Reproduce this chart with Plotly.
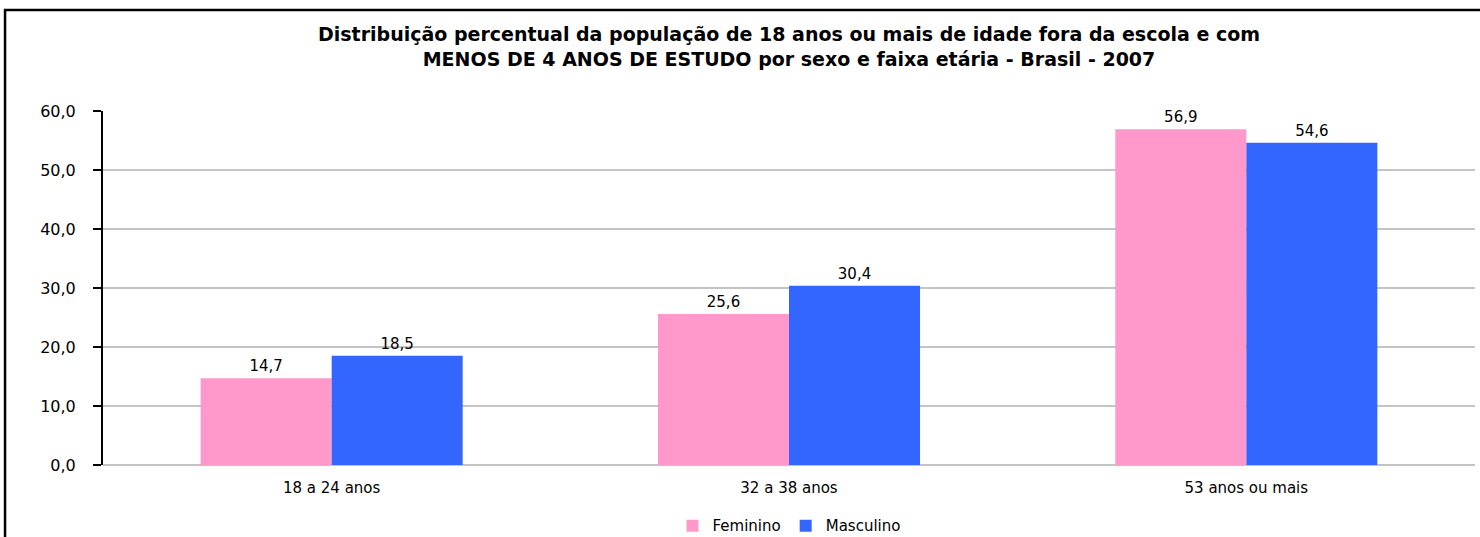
import plotly.graph_objects as go

categories = ["18 a 24 anos", "32 a 38 anos", "53 anos ou mais"]
feminino = [14.7, 25.6, 56.9]
masculino = [18.5, 30.4, 54.6]
y_ticks = [0, 10, 20, 30, 40, 50, 60]
y_tick_labels = ["0,0", "10,0", "20,0", "30,0", "40,0", "50,0", "60,0"]

def fmt(v):
    return f"{v:.1f}".replace(".", ",")

font_family = "DejaVu Sans, Liberation Sans, Arial, sans-serif"

fig = go.Figure()
fig.add_trace(go.Bar(
    name="Feminino", x=categories, y=feminino,
    marker=dict(color="#FF99CC", line=dict(width=0)),
    text=[fmt(v) for v in feminino], textposition="outside",
    textfont=dict(size=15, color="#000000", family=font_family),
    cliponaxis=False,
))
fig.add_trace(go.Bar(
    name="Masculino", x=categories, y=masculino,
    marker=dict(color="#3366FF", line=dict(width=0)),
    text=[fmt(v) for v in masculino], textposition="outside",
    textfont=dict(size=15, color="#000000", family=font_family),
    cliponaxis=False,
))

fig.update_layout(
    width=1480, height=537,
    margin=dict(l=103, r=5, t=111, b=72, autoexpand=False),
    paper_bgcolor="white", plot_bgcolor="white",
    font=dict(family=font_family, size=15, color="#000000"),
    barmode="group", bargap=0.427, bargroupgap=0,
    title=dict(
        text="<b>Distribuição percentual da população de 18 anos ou mais de idade fora da escola e com<br>MENOS DE 4 ANOS DE ESTUDO por sexo e faixa etária - Brasil - 2007</b>",
        x=0.5, xanchor="center", xref="paper", yref="container", y=1 - 41 / 537, yanchor="top",
        font=dict(size=19, family=font_family, color="#000000"),
    ),
    showlegend=True,
    legend=dict(orientation="h", x=0.5, xanchor="center", y=-0.172, yanchor="middle",
                font=dict(size=15), traceorder="normal"),
    xaxis=dict(showline=False, ticks="", showgrid=False, tickfont=dict(size=15),
               ticklabelstandoff=12),
    yaxis=dict(range=[0, 60], tickvals=y_ticks, ticktext=y_tick_labels,
               showline=True, linecolor="#000000", linewidth=2,
               ticks="outside", ticklen=8, tickcolor="#000000", tickwidth=1.5,
               showgrid=True, gridcolor="#C4C4C4", gridwidth=1.5,
               zeroline=True, zerolinecolor="#C4C4C4", zerolinewidth=1.5,
               tickfont=dict(size=16), ticklabelstandoff=14),
    shapes=[dict(type="rect", xref="paper", yref="paper",
                 x0=-0.0714, x1=1.1, y0=-0.3, y1=(465 - 10) / 354,
                 line=dict(color="#000000", width=2.5), fillcolor="rgba(0,0,0,0)",
                 layer="above")],
)

fig.write_html("out.html", config={"displayModeBar": False},
               post_script="document.body.style.margin='0';")
